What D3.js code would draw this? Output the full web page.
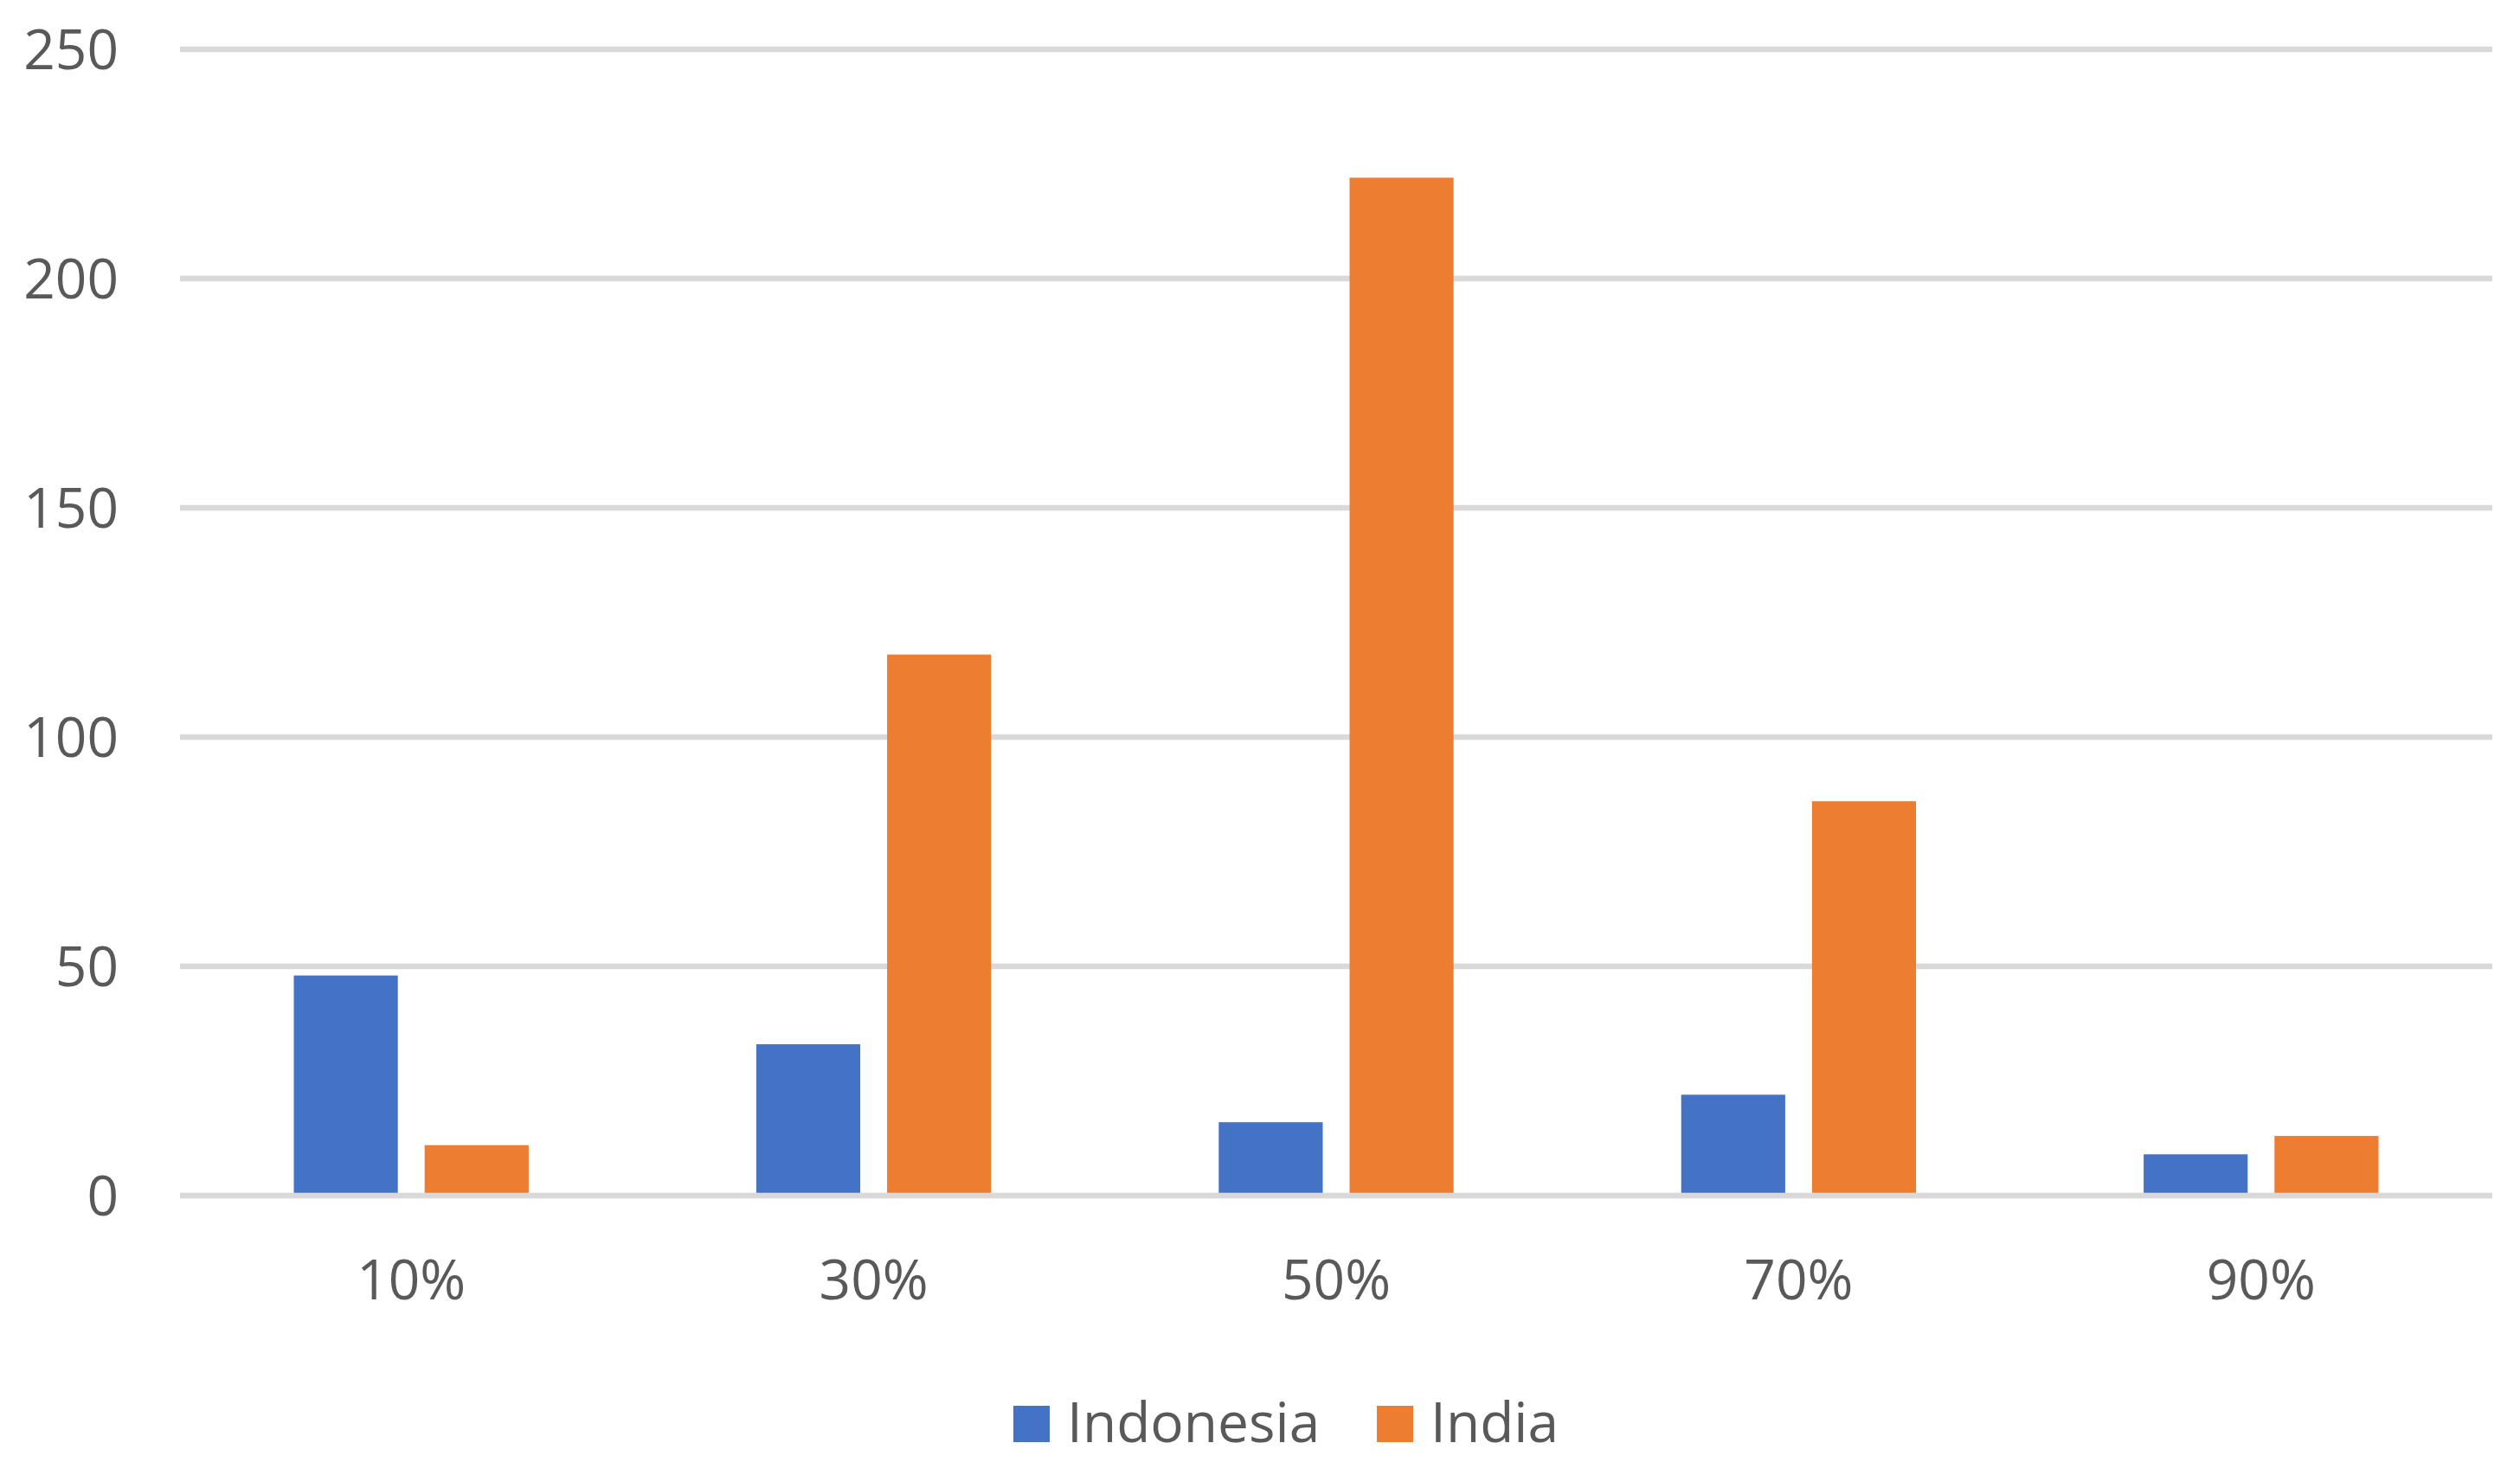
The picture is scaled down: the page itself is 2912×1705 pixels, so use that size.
<!DOCTYPE html>
<html>
<head>
<meta charset="utf-8">
<script src="https://cdn.jsdelivr.net/npm/d3@7"></script>
<style>
  body { margin: 0; background: #fff; }
  text { font-family: "Open Sans", "Noto Sans", sans-serif; fill: #595959; }
</style>
</head>
<body>
<div id="chart-area"></div>
<script>
// data
var categories = ["10%", "30%", "50%", "70%", "90%"];
var seriesNames = ["Indonesia", "India"];
var indonesia = [48, 33, 16, 22, 9];
var india = [11, 118, 222, 86, 13];
var yTicks = [0, 50, 100, 150, 200, 250];
var colors = ["#4472C4", "#ED7D31"];

var W = 2912, H = 1705;
var margin = {left: 208, right: 32, top: 57, bottom: 323};
var width = W - margin.left - margin.right,
    height = H - margin.top - margin.bottom;

var svg = d3.select("#chart-area")
    .append("svg")
    .attr("width", W)
    .attr("height", H);

var g = svg.append("g")
    .attr("transform", "translate(" + margin.left + "," + margin.top + ")");

// scales
var x = d3.scaleBand()
    .domain(categories)
    .range([0, width])
    .padding(0);

var x1 = d3.scaleBand()
    .domain(seriesNames)
    .range([0, x.bandwidth()])
    .paddingInner(0.205)
    .paddingOuter(0.87);

var y = d3.scaleLinear()
    .domain([0, 250])
    .range([height, 0]);

// gridlines (not the zero line, that one goes on top of bars)
g.append("g")
    .attr("class", "grid")
    .selectAll("line")
    .data(yTicks.filter(function (d) { return d > 0; }))
    .enter()
    .append("line")
    .attr("x1", 0)
    .attr("x2", width)
    .attr("y1", function (d) { return y(d); })
    .attr("y2", function (d) { return y(d); })
    .attr("stroke", "#D9D9D9")
    .attr("stroke-width", 6.5);

// y tick labels
g.append("g")
    .selectAll("text")
    .data(yTicks)
    .enter()
    .append("text")
    .attr("x", -71)
    .attr("y", function (d) { return y(d); })
    .attr("dy", "0.36em")
    .attr("text-anchor", "end")
    .style("font-size", "64px")
    .text(function (d) { return d; });

// bars
var table = categories.map(function (c, i) {
    return {cat: c, values: [indonesia[i], india[i]]};
});

var groups = g.selectAll(".cat")
    .data(table)
    .enter()
    .append("g")
    .attr("class", "cat")
    .attr("transform", function (d) { return "translate(" + x(d.cat) + ",0)"; });

groups.selectAll("rect")
    .data(function (d) {
        return d.values.map(function (v, j) { return {name: seriesNames[j], value: v, k: j}; });
    })
    .enter()
    .append("rect")
    .attr("x", function (d) { return x1(d.name); })
    .attr("width", x1.bandwidth())
    .attr("y", function (d) { return y(d.value); })
    .attr("height", function (d) { return y(0) - y(d.value); })
    .attr("fill", function (d) { return colors[d.k]; });

// zero axis line
g.append("line")
    .attr("x1", 0)
    .attr("x2", width)
    .attr("y1", y(0))
    .attr("y2", y(0))
    .attr("stroke", "#D9D9D9")
    .attr("stroke-width", 6.5);

// category labels
g.append("g")
    .selectAll("text")
    .data(categories)
    .enter()
    .append("text")
    .attr("x", function (d) { return x(d) + x.bandwidth() / 2; })
    .attr("y", height + 120)
    .attr("text-anchor", "middle")
    .style("font-size", "64px")
    .text(function (d) { return d; });

// legend
var legendX = [1171, 1591];
var legend = svg.append("g").attr("class", "legend");
seriesNames.forEach(function (name, i) {
    legend.append("rect")
        .attr("x", legendX[i])
        .attr("y", 1625)
        .attr("width", 42)
        .attr("height", 42)
        .attr("fill", colors[i]);
    legend.append("text")
        .attr("x", legendX[i] + 62)
        .attr("y", 1667)
        .style("font-size", "64px")
        .text(name);
});
</script>
</body>
</html>
